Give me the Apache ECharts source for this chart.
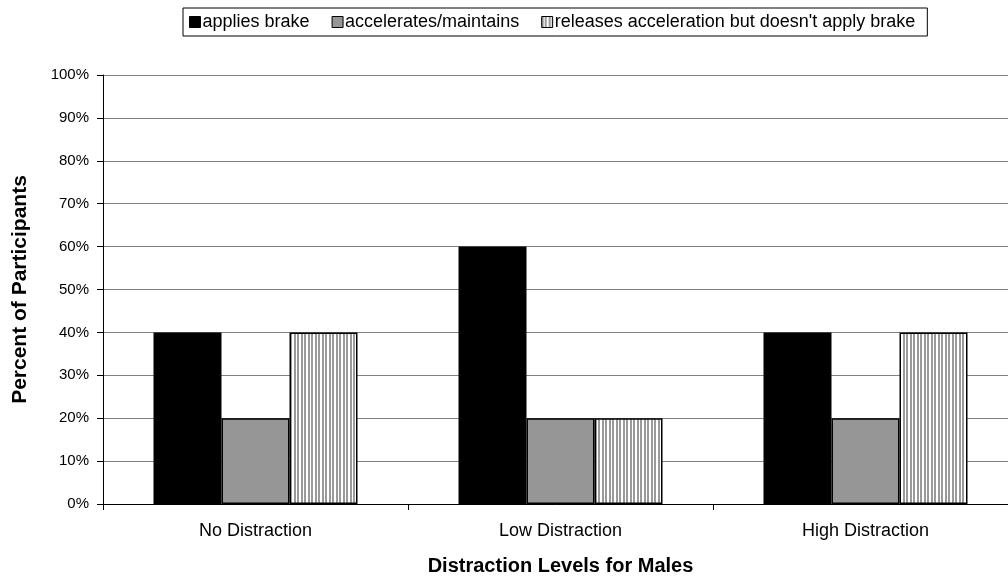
<!DOCTYPE html>
<html>
<head>
<meta charset="utf-8">
<script src="https://cdn.jsdelivr.net/npm/echarts@6/dist/echarts.min.js"></script>
<style>html,body{margin:0;padding:0;background:#fff}#c{width:1008px;height:580px}</style>
</head>
<body>
<div id="c"></div>
<script>
const categories = ['No Distraction', 'Low Distraction', 'High Distraction'];
const appliesBrake = [40, 60, 40];
const acceleratesMaintains = [20, 20, 20];
const releasesAcceleration = [40, 20, 40];
const yTicks = [0, 10, 20, 30, 40, 50, 60, 70, 80, 90, 100];

const cv = document.createElement('canvas');
cv.width = 7; cv.height = 4;
const cx = cv.getContext('2d');
cx.fillStyle = '#ffffff'; cx.fillRect(0, 0, 7, 4);
cx.fillStyle = '#9a9a9a';
cx.fillRect(0, 0, 2, 4);
cx.fillRect(3, 0, 2, 4);
const stripe = { image: cv, repeat: 'repeat' };

const font = 'Liberation Sans, Arial, sans-serif';
const chart = echarts.init(document.getElementById('c'), null, { renderer: 'canvas' });
const border = { borderColor: '#000', borderWidth: 1.5 };
chart.setOption({
  animation: false,
  textStyle: { fontFamily: font },
  legend: {
    top: 8, left: 183,
    borderColor: '#000', borderWidth: 1, borderRadius: 0,
    padding: [5, 12, 5, 6],
    icon: 'rect',
    itemWidth: 11, itemHeight: 11, itemGap: 22,
    itemStyle: { borderColor: '#000', borderWidth: 1 },
    textStyle: { fontSize: 18, color: '#000', fontFamily: font, padding: [0, 0, 0, -3] },
    data: ['applies brake', 'accelerates/maintains', "releases acceleration but doesn't apply brake"]
  },
  grid: { left: 103, top: 75, right: -10, bottom: 76, outerBoundsMode: 'none', containLabel: false },
  xAxis: {
    type: 'category', data: categories,
    axisLine: { lineStyle: { color: '#000', width: 1 } },
    axisTick: { show: true, length: 6, lineStyle: { color: '#000' } },
    axisLabel: { fontSize: 18, color: '#000', margin: 18 },
    name: 'Distraction Levels for Males', nameLocation: 'middle', nameGap: 52,
    nameTextStyle: { fontSize: 20, fontWeight: 'bold', color: '#000' }
  },
  yAxis: {
    type: 'value', min: 0, max: 100, interval: 10,
    axisLine: { show: true, lineStyle: { color: '#000', width: 1 } },
    axisTick: { show: true, length: 6, lineStyle: { color: '#000' } },
    axisLabel: { fontSize: 15, color: '#000', margin: 14,
      formatter: v => yTicks.includes(v) ? v + '%' : '' },
    splitLine: { lineStyle: { color: '#808080', width: 1 } },
    name: 'Percent of Participants', nameLocation: 'middle', nameGap: 72,
    nameTextStyle: { fontSize: 21, fontWeight: 'bold', color: '#000' }
  },
  series: [
    { name: 'applies brake', type: 'bar', data: appliesBrake, barWidth: 68, barGap: '0%',
      itemStyle: Object.assign({ color: '#000' }, border) },
    { name: 'accelerates/maintains', type: 'bar', data: acceleratesMaintains, barWidth: 68, barGap: '0%',
      itemStyle: Object.assign({ color: '#969696' }, border) },
    { name: "releases acceleration but doesn't apply brake", type: 'bar', data: releasesAcceleration, barWidth: 68, barGap: '0%',
      itemStyle: Object.assign({ color: stripe }, border) }
  ]
});
</script>
</body>
</html>
